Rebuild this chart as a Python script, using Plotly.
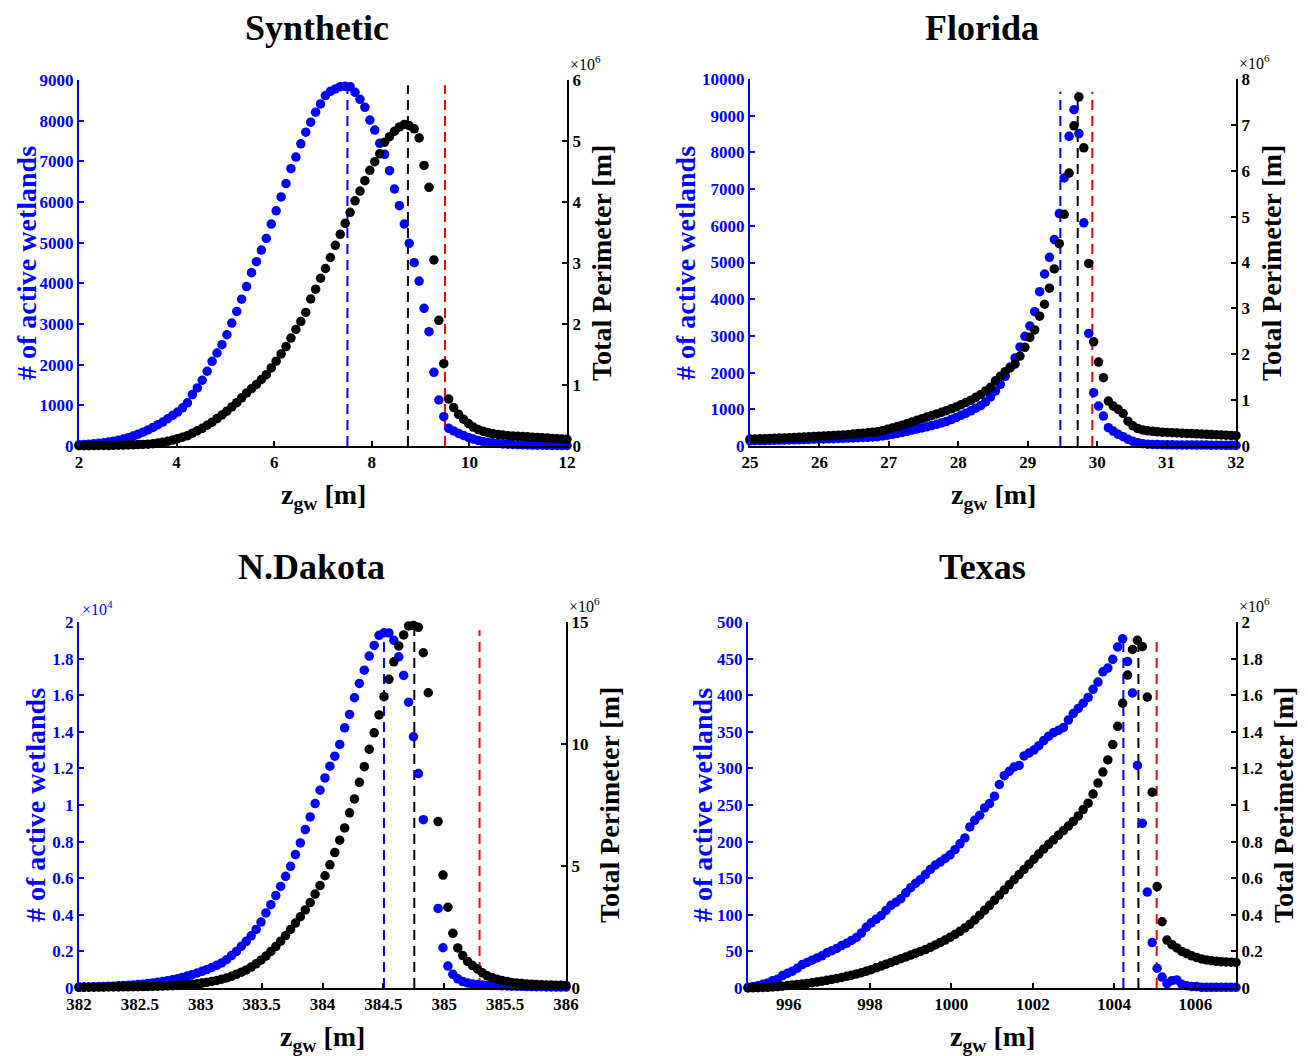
import plotly.graph_objects as go

# ---------------------------------------------------------------- data
N = 100  # samples per series, evenly spaced over each x range

syn_range = [2, 12]
syn_z = [syn_range[0] + i * (syn_range[1] - syn_range[0]) / (N - 1) for i in range(N)]
syn_count = [30, 37, 45, 54, 66, 80, 97, 118, 143, 172,
             205, 245, 290, 340, 395, 457, 523, 588, 670, 751,
             833, 939, 1062, 1266, 1429, 1617, 1838, 2083, 2287, 2491,
             2736, 3022, 3308, 3610, 3920, 4263, 4533, 4819, 5104, 5456,
             5782, 6125, 6452, 6819, 7105, 7432, 7718, 7963, 8208, 8412,
             8616, 8722, 8780, 8836, 8845, 8836, 8698, 8525, 8328, 8016,
             7770, 7443, 7172, 6770, 6320, 5910, 5459, 4984, 4507, 4057,
             3386, 2811, 1812, 1131, 721, 435, 370, 310, 260, 210,
             170, 135, 110, 90, 75, 62, 52, 44, 38, 33,
             29, 26, 23, 21, 19, 17, 15, 14, 13, 12]
syn_perim = [0.004, 0.005, 0.006, 0.007, 0.008, 0.009, 0.01, 0.012, 0.014, 0.016,
             0.018, 0.02, 0.023, 0.026, 0.03, 0.038, 0.048, 0.062, 0.078, 0.098,
             0.12, 0.145, 0.17, 0.21, 0.25, 0.29, 0.34, 0.39, 0.45, 0.51,
             0.57, 0.64, 0.71, 0.79, 0.87, 0.94, 1.01, 1.09, 1.17, 1.28,
             1.39, 1.51, 1.63, 1.77, 1.91, 2.04, 2.19, 2.41, 2.57, 2.75,
             2.91, 3.09, 3.29, 3.47, 3.65, 3.83, 4.02, 4.18, 4.35, 4.52,
             4.66, 4.79, 4.98, 5.07, 5.16, 5.23, 5.27, 5.25, 5.20, 5.05,
             4.60, 4.24, 3.05, 2.06, 1.35, 0.77, 0.63, 0.52, 0.44, 0.37,
             0.31, 0.27, 0.24, 0.22, 0.2, 0.19, 0.18, 0.17, 0.165, 0.16,
             0.155, 0.15, 0.145, 0.14, 0.135, 0.13, 0.125, 0.12, 0.115, 0.11]
syn_vlines = [7.5, 8.74, 9.5]

fl_range = [25, 32]
fl_z = [fl_range[0] + i * (fl_range[1] - fl_range[0]) / (N - 1) for i in range(N)]
fl_count = [140, 143, 146, 149, 152, 155, 158, 161, 164, 168,
            172, 176, 180, 184, 188, 192, 196, 200, 205, 210,
            215, 220, 226, 232, 238, 245, 253, 273, 295, 318,
            344, 371, 401, 433, 463, 492, 523, 556, 591, 628,
            667, 720, 775, 835, 895, 960, 1030, 1100, 1200, 1340,
            1500, 1680, 1900, 2150, 2400, 2700, 2990, 3270, 3660, 4205,
            4687, 5142, 5626, 6334, 7305, 8439, 9165, 8512, 6080, 3067,
            1452, 1089, 817, 499, 408, 318, 254, 181, 127, 91,
            64, 50, 42, 38, 35, 33, 31, 30, 29, 28,
            27, 26, 25, 24, 23, 22, 21, 20, 19, 18]
fl_perim = [0.15, 0.153, 0.156, 0.16, 0.164, 0.168, 0.172, 0.176, 0.18, 0.185,
            0.19, 0.195, 0.2, 0.205, 0.21, 0.216, 0.222, 0.228, 0.234, 0.24,
            0.25, 0.26, 0.27, 0.28, 0.29, 0.30, 0.31, 0.335, 0.365, 0.395,
            0.425, 0.455, 0.49, 0.525, 0.56, 0.595, 0.63, 0.665, 0.70, 0.735,
            0.77, 0.81, 0.85, 0.90, 0.95, 1.0, 1.06, 1.12, 1.20, 1.28,
            1.42, 1.52, 1.62, 1.70, 1.79, 1.96, 2.15, 2.37, 2.53, 2.83,
            3.09, 3.44, 3.86, 4.41, 5.05, 5.95, 6.98, 7.61, 6.50, 3.98,
            2.27, 1.83, 1.49, 0.98, 0.87, 0.80, 0.71, 0.54, 0.44, 0.38,
            0.35, 0.33, 0.32, 0.31, 0.30, 0.295, 0.29, 0.285, 0.28, 0.275,
            0.27, 0.265, 0.26, 0.255, 0.25, 0.245, 0.24, 0.235, 0.23, 0.225]
fl_vlines = [29.47, 29.72, 29.93]

nd_range = [382, 386]
nd_z = [nd_range[0] + i * (nd_range[1] - nd_range[0]) / (N - 1) for i in range(N)]
nd_count = [0.005, 0.005, 0.006, 0.006, 0.007, 0.008, 0.009, 0.010, 0.012, 0.013,
            0.015, 0.017, 0.019, 0.021, 0.024, 0.027, 0.031, 0.035, 0.04, 0.045,
            0.051, 0.058, 0.065, 0.073, 0.082, 0.091, 0.101, 0.112, 0.124, 0.137,
            0.155, 0.177, 0.2, 0.228, 0.255, 0.285, 0.32, 0.36, 0.41, 0.455,
            0.505, 0.555, 0.61, 0.665, 0.729, 0.793, 0.866, 0.935, 1.008, 1.081,
            1.148, 1.212, 1.267, 1.331, 1.422, 1.495, 1.586, 1.664, 1.737, 1.814,
            1.872, 1.927, 1.941, 1.94, 1.90, 1.81, 1.708, 1.562, 1.373, 1.172,
            0.92, None, None, 0.435, 0.22, 0.12, 0.075, 0.05, 0.035, 0.028,
            0.022, 0.019, 0.017, 0.015, 0.014, 0.013, 0.012, 0.011, 0.010, 0.009,
            0.009, 0.008, 0.008, 0.007, 0.007, 0.006, 0.006, 0.005, 0.005, 0.005]
nd_perim = [0.03, 0.032, 0.034, 0.036, 0.038, 0.04, 0.042, 0.044, 0.046, 0.048,
            0.05, 0.053, 0.056, 0.06, 0.064, 0.068, 0.073, 0.08, 0.088, 0.097,
            0.107, 0.12, 0.135, 0.15, 0.17, 0.2, 0.23, 0.27, 0.31, 0.36,
            0.41, 0.48, 0.56, 0.65, 0.74, 0.86, 0.99, 1.14, 1.31, 1.50,
            1.70, 1.92, 2.15, 2.40, 2.66, 2.92, 3.2, 3.5, 3.85, 4.2,
            4.6, 5.05, 5.55, 6.06, 6.56, 7.18, 7.75, 8.43, 9.07, 9.78,
            10.46, 11.19, 11.94, 12.65, 13.37, 14.02, 14.47, 14.84, 14.86, 14.78,
            13.74, 12.10, None, 6.82, 4.63, 3.31, 2.24, 1.64, 1.33, 1.09,
            0.92, 0.78, 0.62, 0.50, 0.42, 0.36, 0.31, 0.27, 0.23, 0.2,
            0.18, 0.165, 0.15, 0.14, 0.13, 0.125, 0.12, 0.115, 0.11, 0.105]
nd_vlines = [384.505, 384.754, 385.29]

tx_range = [995, 1007]
tx_z = [tx_range[0] + i * (tx_range[1] - tx_range[0]) / (N - 1) for i in range(N)]
tx_count = [1, 2, 3, 5, 7, 10, 12, 17, 20, 23,
            27, 32, 35, 38, 41, 44, 48, 51, 54, 58,
            61, 65, 69, 75, 83, 89, 94, 99, 106, 113,
            117, 122, 130, 137, 143, 148, 155, 162, 168, 172,
            177, 182, 189, 197, 205, 220, 229, 236, 246, 252,
            262, 278, 290, 296, 302, 304, 317, 321, 325, 331,
            338, 344, 349, 352, 356, 366, 375, 382, 389, 397,
            408, 418, 432, 437, 449, 466, 477, 446, 403, 304,
            225, 131, 62, 27, 15, 6, 10, 11, 5, 3,
            2, 2, 1, 1, 1, 1, 1, 1, 1, 1]
tx_perim = [0.0, 0.001, 0.002, 0.003, 0.004, 0.006, 0.008, 0.01, 0.013, 0.016,
            0.019, 0.022, 0.025, 0.029, 0.033, 0.037, 0.042, 0.047, 0.052, 0.058,
            0.064, 0.07, 0.077, 0.084, 0.092, 0.10, 0.11, 0.12, 0.13, 0.14,
            0.15, 0.16, 0.17, 0.18, 0.19, 0.2, 0.21, 0.222, 0.235, 0.248,
            0.262, 0.277, 0.293, 0.31, 0.328, 0.348, 0.372, 0.398, 0.425, 0.452,
            0.48, 0.508, 0.536, 0.564, 0.592, 0.62, 0.648, 0.676, 0.704, 0.732,
            0.76, 0.785, 0.81, 0.835, 0.86, 0.885, 0.91, 0.94, 0.975, 1.01,
            1.06, 1.12, 1.18, 1.246, 1.33, 1.43, 1.556, 1.71, 1.85, 1.90,
            1.865, 1.59, 1.07, 0.554, 0.362, 0.262, 0.237, 0.219, 0.2, 0.188,
            0.176, 0.167, 0.159, 0.153, 0.149, 0.146, 0.144, 0.142, 0.141, 0.14]
tx_vlines = [1004.23, 1004.6, 1005.05]

titles = ["Synthetic", "Florida", "N.Dakota", "Texas"]
vline_colors = ["#0000ff", "#000000", "#ff0000"]

# ---------------------------------------------------------------- layout helpers
PAGE_W, PAGE_H = 1308, 1056
OFF = 8                      # default page margin of the html body
W, H = PAGE_W - OFF, PAGE_H - OFF
FONT = "Liberation Serif, Times New Roman, serif"
BLUE = "#0000ff"


def fx(p):
    return (p - OFF) / W


def fy(p):
    return 1 - (p - OFF) / H


def lbl(vals):
    return [str(int(v)) if float(v).is_integer() else ("%g" % v) for v in vals]


panels = [
    dict(z=syn_z, c=syn_count, p=syn_perim, v=syn_vlines, vtop=8870,
         box=(79, 567, 80, 446), xr=syn_range, xt=[2, 4, 6, 8, 10, 12],
         yl=[0, 9000], ylt=list(range(0, 9001, 1000)), yr=[0, 6], yrt=[0, 1, 2, 3, 4, 5, 6],
         lexp=None, rexp="6"),
    dict(z=fl_z, c=fl_count, p=fl_perim, v=fl_vlines, vtop=9650,
         box=(750, 1236, 79, 446), xr=fl_range, xt=list(range(25, 33)),
         yl=[0, 10000], ylt=list(range(0, 10001, 1000)), yr=[0, 8], yrt=list(range(0, 9)),
         lexp=None, rexp="6"),
    dict(z=nd_z, c=nd_count, p=nd_perim, v=nd_vlines, vtop=1.955,
         box=(79, 566, 622, 988), xr=nd_range, xt=[382, 382.5, 383, 383.5, 384, 384.5, 385, 385.5, 386],
         yl=[0, 2], ylt=[round(0.2 * k, 1) for k in range(11)], yr=[0, 15], yrt=[0, 5, 10, 15],
         lexp="4", rexp="6"),
    dict(z=tx_z, c=tx_count, p=tx_perim, v=tx_vlines, vtop=478,
         box=(748, 1236, 622, 988), xr=tx_range, xt=[996, 998, 1000, 1002, 1004, 1006],
         yl=[0, 500], ylt=list(range(0, 501, 50)), yr=[0, 2], yrt=[round(0.2 * k, 1) for k in range(11)],
         lexp=None, rexp="6"),
]

title_pos = [(317, 28), (982, 28), (311, 567), (982, 567)]
ltitle_pos = [(26, 263), (685, 263), (35, 805), (702, 805)]
rtitle_pos = [(601, 263), (1271, 263), (609, 805), (1283, 805)]

fig = go.Figure()
layout = dict(width=W, height=H, margin=dict(l=0, r=0, t=0, b=0, autoexpand=False),
              paper_bgcolor="white", plot_bgcolor="white", showlegend=False)
shapes, annotations = [], []


def tick_font(col):
    return dict(family=FONT, size=17, color=col, weight="bold")


for k, pn in enumerate(panels):
    xn = "" if k == 0 else str(k + 1)
    yl_n = "" if k == 0 else str(2 * k + 1)
    yr_n = str(2 * k + 2)
    xref, ylref, yrref = "x" + xn, "y" + yl_n, "y" + yr_n
    x0, x1, y0, y1 = pn["box"]

    common = dict(ticks="inside", ticklen=5, tickwidth=1.5, showline=True, linewidth=2,
                  showgrid=False, zeroline=False, automargin=False, tickmode="array")
    layout["xaxis" + xn] = dict(
        domain=[fx(x0), fx(x1)], anchor=ylref, range=pn["xr"], tickvals=pn["xt"],
        ticktext=lbl(pn["xt"]), tickcolor="black", linecolor="black",
        tickfont=tick_font("black"), **common)
    layout["yaxis" + yl_n] = dict(
        domain=[fy(y1), fy(y0)], anchor=xref, range=pn["yl"], tickvals=pn["ylt"],
        ticktext=lbl(pn["ylt"]), tickcolor=BLUE, linecolor=BLUE,
        tickfont=tick_font(BLUE), **common)
    layout["yaxis" + yr_n] = dict(
        overlaying=ylref, side="right", anchor=xref, range=pn["yr"], tickvals=pn["yrt"],
        ticktext=lbl(pn["yrt"]), tickcolor="black", linecolor="black",
        tickfont=tick_font("black"), **common)

    fig.add_trace(go.Scatter(x=pn["z"], y=pn["c"], mode="markers", xaxis=xref, yaxis=ylref,
                             marker=dict(color=BLUE, size=9.5), cliponaxis=False))
    fig.add_trace(go.Scatter(x=pn["z"], y=pn["p"], mode="markers", xaxis=xref, yaxis=yrref,
                             marker=dict(color="black", size=9.5), cliponaxis=False))

    for v, col in zip(pn["v"], vline_colors):
        shapes.append(dict(type="line", xref=xref, yref=ylref, x0=v, x1=v, y0=0, y1=pn["vtop"],
                           line=dict(color=col, width=2, dash="10px,6px"), layer="below"))

    tx, ty = title_pos[k]
    annotations.append(dict(text="<b>%s</b>" % titles[k], x=fx(tx), y=fy(ty), xref="paper", yref="paper",
                            showarrow=False, xanchor="center", yanchor="middle",
                            font=dict(family=FONT, size=36, color="black")))
    lx, ly = ltitle_pos[k]
    annotations.append(dict(text="<b># of active wetlands</b>", x=fx(lx), y=fy(ly), xref="paper",
                            yref="paper", showarrow=False, textangle=-90, xanchor="center",
                            yanchor="middle", font=dict(family=FONT, size=28, color=BLUE)))
    rx, ry = rtitle_pos[k]
    annotations.append(dict(text="<b>Total Perimeter [m]</b>", x=fx(rx), y=fy(ry), xref="paper",
                            yref="paper", showarrow=False, textangle=-90, xanchor="center",
                            yanchor="middle", font=dict(family=FONT, size=28, color="black")))
    annotations.append(dict(text="<b>z<sub>gw</sub> [m]</b>", x=fx((x0 + x1) / 2), y=fy(y1 + 50),
                            xref="paper", yref="paper", showarrow=False, xanchor="center",
                            yanchor="middle", font=dict(family=FONT, size=28, color="black")))
    if pn["rexp"]:
        annotations.append(dict(text="×10<sup>%s</sup>" % pn["rexp"], x=fx(x1 + 1), y=fy(y0 - 5),
                                xref="paper", yref="paper", showarrow=False, xanchor="left",
                                yanchor="bottom", font=dict(family=FONT, size=16, color="black")))
    if pn["lexp"]:
        annotations.append(dict(text="×10<sup>%s</sup>" % pn["lexp"], x=fx(x0 + 1), y=fy(y0 - 2),
                                xref="paper", yref="paper", showarrow=False, xanchor="left",
                                yanchor="bottom", font=dict(family=FONT, size=16, color=BLUE)))

layout["shapes"] = shapes
layout["annotations"] = annotations
fig.update_layout(**layout)
fig.write_html("out.html")
